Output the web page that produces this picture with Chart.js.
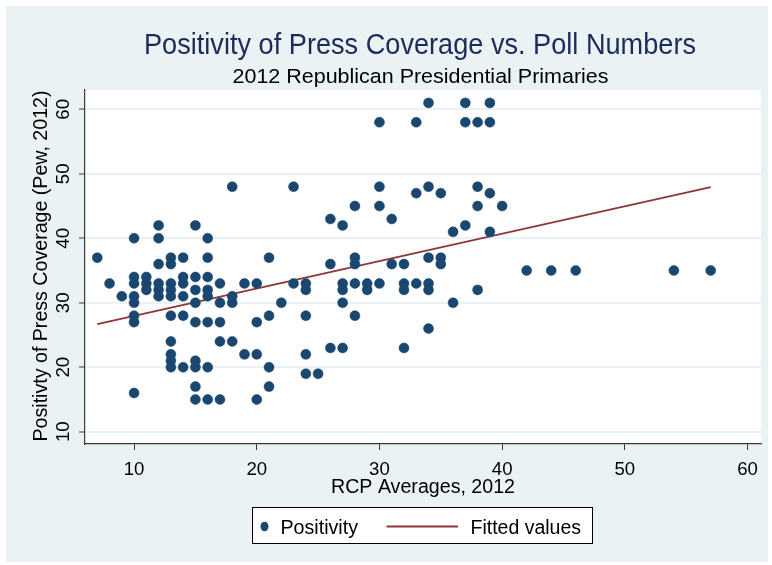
<!DOCTYPE html>
<html>
<head>
<meta charset="utf-8">
<script src="https://cdn.jsdelivr.net/npm/chart.js@4.4.1/dist/chart.umd.min.js"></script>
<style>
  html, body { margin: 0; padding: 0; background: #ffffff; }
  #wrap { width: 772px; height: 565px; }
</style>
</head>
<body>
<div id="wrap"><canvas id="chart" width="772" height="565"></canvas></div>
<script>
// RCP poll average (x) and Pew positivity score (y) for each candidate-week
const rcpAverages = [
  7, 8, 9,
  10, 10, 10, 10, 10, 10, 10, 10,
  11, 11, 11,
  12, 12, 12, 12, 12, 12,
  13, 13, 13, 13, 13, 13, 13, 13, 13, 13,
  14, 14, 14, 14, 14, 14,
  15, 15, 15, 15, 15, 15, 15, 15, 15,
  16, 16, 16, 16, 16, 16, 16, 16,
  17, 17, 17, 17, 17,
  18, 18, 18, 18,
  19, 19,
  20, 20, 20, 20,
  21, 21, 21, 21,
  22,
  23, 23,
  24, 24, 24, 24, 24,
  25,
  26, 26, 26,
  27, 27, 27, 27, 27,
  28, 28, 28, 28, 28,
  29, 29,
  30, 30, 30, 30,
  31, 31,
  32, 32, 32, 32,
  33, 33, 33,
  34, 34, 34, 34, 34, 34,
  35, 35, 35,
  36, 36,
  37, 37, 37,
  38, 38, 38, 38,
  39, 39, 39, 39,
  40,
  42, 44, 46, 54, 57
];
const positivity = [
  37, 33, 31,
  40, 34, 33, 31, 30, 28, 27, 16,
  34, 33, 32,
  42, 40, 36, 33, 32, 31,
  37, 36, 33, 32, 31, 28, 24, 22, 21, 20,
  37, 34, 33, 31, 28, 20,
  42, 34, 32, 30, 27, 21, 20, 17, 15,
  40, 37, 34, 32, 31, 27, 20, 15,
  33, 30, 27, 24, 15,
  48, 31, 30, 24,
  33, 22,
  33, 27, 22, 15,
  37, 28, 20, 17,
  30,
  48, 33,
  33, 32, 28, 22, 19,
  19,
  43, 36, 23,
  42, 33, 32, 30, 23,
  45, 37, 36, 33, 28,
  33, 32,
  58, 48, 45, 33,
  43, 36,
  36, 33, 32, 23,
  58, 47, 33,
  61, 48, 37, 33, 32, 26,
  47, 37, 36,
  41, 30,
  61, 58, 42,
  58, 48, 45, 32,
  61, 58, 47, 41,
  45,
  35, 35, 35, 35, 35
];
// Linear fit, end points
const fitX = [7, 57];
const fitY = [26.7, 47.95];
// Axis ticks
const xTicks = [10, 20, 30, 40, 50, 60];
const yTicks = [10, 20, 30, 40, 50, 60];

const titleText = 'Positivity of Press Coverage vs. Poll Numbers';
const subtitleText = '2012 Republican Presidential Primaries';
const xTitle = 'RCP Averages, 2012';
const yTitle = 'Positivty of Press Coverage (Pew, 2012)';

const NAVY = '#1A476F';
const MAROON = '#90353B';
const BLUISH = '#EAF2F3';
const AXIS = '#3a3a3a';
const FONT = '"Liberation Sans", Arial, sans-serif';

const scatterPts = rcpAverages.map((x, i) => ({ x: x, y: positivity[i] }));
const fitPts = fitX.map((x, i) => ({ x: x, y: fitY[i] }));

// Draw text at (cx, cy), optionally squeezed to a given width
function fitText(ctx, text, cx, cy, size, width, color, rot, align) {
  ctx.save();
  ctx.font = size + 'px ' + FONT;
  const natural = ctx.measureText(text).width;
  const sx = width ? width / natural : 1;
  ctx.translate(cx, cy);
  if (rot) ctx.rotate(rot);
  ctx.scale(sx, 1);
  ctx.fillStyle = color;
  ctx.textAlign = align || 'center';
  ctx.textBaseline = 'alphabetic';
  ctx.fillText(text, 0, 0);
  ctx.restore();
}

const backdrop = {
  id: 'backdrop',
  beforeDraw(chart) {
    const ctx = chart.ctx;
    const a = chart.chartArea;
    ctx.save();
    ctx.fillStyle = '#ffffff';
    ctx.fillRect(0, 0, chart.width, chart.height);
    ctx.fillStyle = BLUISH;
    ctx.fillRect(6, 6, 762, 556);
    ctx.fillStyle = '#ffffff';
    ctx.fillRect(a.left, a.top, a.right - a.left, a.bottom - a.top);
    ctx.restore();
  }
};

const annotations = {
  id: 'annotations',
  afterDraw(chart) {
    const ctx = chart.ctx;
    const xs = chart.scales.x;
    const ys = chart.scales.y;

    // Titles
    fitText(ctx, titleText, 420, 54, 29, 552, '#1c2b5a');
    fitText(ctx, subtitleText, 420.5, 82.5, 20.5, 376, '#000000');

    // X tick labels
    xTicks.forEach(v => {
      fitText(ctx, String(v), xs.getPixelForValue(v), 474.5, 19, 20.7, '#000000');
    });

    // Y tick labels, turned vertical
    yTicks.forEach(v => {
      fitText(ctx, String(v), 68.5, ys.getPixelForValue(v), 19, 20.7, '#000000', -Math.PI / 2);
    });

    // Axis titles
    fitText(ctx, xTitle, 423, 492.5, 19.5, 184, '#000000');
    fitText(ctx, yTitle, 47, 266, 19.5, 351, '#000000', -Math.PI / 2);

    // Legend
    const ds = chart.data.datasets;
    ctx.save();
    ctx.fillStyle = '#ffffff';
    ctx.fillRect(252.5, 507.5, 340, 36);
    ctx.strokeStyle = '#000000';
    ctx.lineWidth = 1;
    ctx.strokeRect(252.5, 507.5, 340, 36);
    ctx.fillStyle = ds[0].backgroundColor;
    ctx.beginPath();
    ctx.ellipse(264.5, 526.5, 4, 4.8, 0, 0, Math.PI * 2);
    ctx.fill();
    ctx.strokeStyle = ds[1].borderColor;
    ctx.lineWidth = 2;
    ctx.beginPath();
    ctx.moveTo(386.5, 526.5);
    ctx.lineTo(458, 526.5);
    ctx.stroke();
    ctx.restore();
    fitText(ctx, ds[0].label, 280.5, 533.5, 19.5, 77.5, '#000000', 0, 'left');
    fitText(ctx, ds[1].label, 470.5, 533.5, 19.5, 110.5, '#000000', 0, 'left');
  }
};

new Chart(document.getElementById('chart'), {
  type: 'scatter',
  data: {
    datasets: [
      {
        label: 'Positivity',
        data: scatterPts,
        backgroundColor: NAVY,
        borderColor: NAVY,
        borderWidth: 0.5,
        pointRadius: 5,
        pointHoverRadius: 5
      },
      {
        type: 'line',
        label: 'Fitted values',
        data: fitPts,
        borderColor: MAROON,
        backgroundColor: MAROON,
        borderWidth: 1.8,
        pointRadius: 0,
        fill: false,
        tension: 0
      }
    ]
  },
  options: {
    responsive: false,
    animation: false,
    events: [],
    layout: { padding: { top: 90, right: 11, bottom: 0, left: 0 } },
    plugins: {
      legend: { display: false },
      title: { display: false },
      tooltip: { enabled: false }
    },
    scales: {
      x: {
        type: 'linear',
        position: 'bottom',
        min: 6,
        max: 61.1,
        afterBuildTicks: s => { s.ticks = xTicks.map(v => ({ value: v })); },
        afterFit: s => { s.height = 121; },
        ticks: { display: false },
        grid: { drawOnChartArea: false, drawTicks: true, tickLength: 6, tickColor: AXIS, tickWidth: 1 },
        border: { display: true, color: AXIS, width: 1.2 }
      },
      y: {
        type: 'linear',
        position: 'left',
        min: 8.1,
        max: 63,
        afterBuildTicks: s => { s.ticks = yTicks.map(v => ({ value: v })); },
        afterFit: s => { s.width = 85; },
        ticks: { display: false },
        grid: { color: BLUISH, lineWidth: 2, drawTicks: true, tickLength: 6, tickColor: AXIS, tickWidth: 1 },
        border: { display: true, color: AXIS, width: 1.2 }
      }
    }
  },
  plugins: [backdrop, annotations]
});
</script>
</body>
</html>
